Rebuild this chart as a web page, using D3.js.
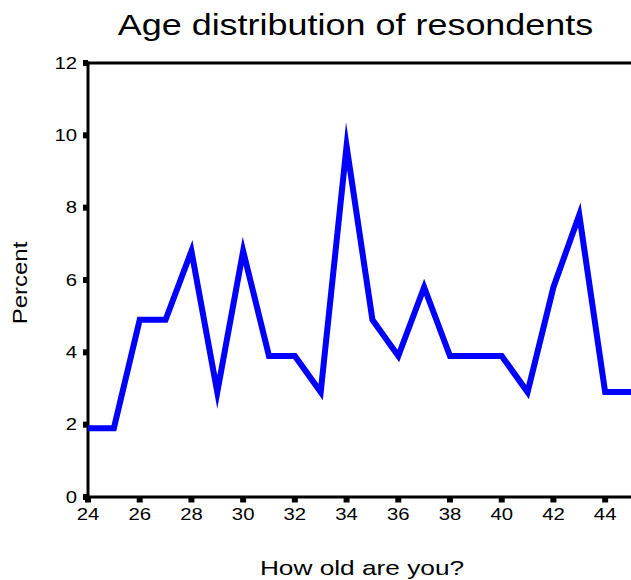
<!DOCTYPE html>
<html>
<head>
<meta charset="utf-8">
<script src="https://cdn.jsdelivr.net/npm/d3@7"></script>
<style>
  html, body { margin: 0; padding: 0; background: #fff; }
  svg { display: block; font-family: "Liberation Sans", Arial, sans-serif; }
</style>
</head>
<body>
<svg id="chart" width="631" height="580"></svg>
<script>
const ages = [24,25,26,27,28,29,30,31,32,33,34,35,36,37,38,39,40,41,42,43,44,45];
const percents = [1.9,1.9,4.9,4.9,6.8,2.9,6.8,3.9,3.9,2.9,9.7,4.9,3.9,5.8,3.9,3.9,3.9,2.9,5.8,7.8,2.9,2.9];
const xTicks = [24,26,28,30,32,34,36,38,40,42,44];
const yTicks = [0,2,4,6,8,10,12];
const titleText = "Age distribution of resondents";
const xLabel = "How old are you?";
const yLabel = "Percent";

(function () {
const svg = d3.select("#chart");
const mLeft = 88, mRight = 631, mTop = 63, mBottom = 497;
const sx = 1.27;

const x = d3.scaleLinear().domain([24,45]).range([mLeft, mRight]);
const y = d3.scaleLinear().domain([0,12]).range([mBottom, mTop]);

svg.append("line").attr("x1", mLeft).attr("x2", mLeft).attr("y1", mTop - 1.5).attr("y2", mBottom + 1.5)
  .attr("stroke", "#000").attr("stroke-width", 3);
svg.append("line").attr("x1", mLeft).attr("x2", mRight).attr("y1", mBottom).attr("y2", mBottom)
  .attr("stroke", "#000").attr("stroke-width", 3);
svg.append("line").attr("x1", mLeft).attr("x2", mRight).attr("y1", mTop).attr("y2", mTop)
  .attr("stroke", "#000").attr("stroke-width", 3);

const yAxis = svg.append("g");
yAxis.selectAll("rect").data(yTicks).join("rect")
  .attr("x", mLeft - 5).attr("y", d => y(d) - 3).attr("width", 5).attr("height", 6).attr("fill", "#000");
yAxis.selectAll("text").data(yTicks).join("text")
  .attr("transform", d => `translate(77,${y(d) + 5.7}) scale(${sx},1)`)
  .attr("text-anchor", "end").attr("font-size", 16).attr("fill", "#000")
  .text(d => d);

const xAxis = svg.append("g");
xAxis.selectAll("rect").data(xTicks).join("rect")
  .attr("x", d => x(d) - 3).attr("y", mBottom).attr("width", 6).attr("height", 5.5).attr("fill", "#000");
xAxis.selectAll("text").data(xTicks).join("text")
  .attr("transform", d => `translate(${x(d)},519.5) scale(${sx},1)`)
  .attr("text-anchor", "middle").attr("font-size", 16).attr("fill", "#000")
  .text(d => d);

const line = d3.line().x((d, i) => x(ages[i])).y(d => y(d));
svg.append("path").datum(percents)
  .attr("d", line).attr("fill", "none")
  .attr("stroke", "#0000ff").attr("stroke-width", 6)
  .attr("stroke-linejoin", "miter").attr("stroke-miterlimit", 10);

svg.append("text").attr("transform", "translate(355.5,34.5) scale(1.24,1)").attr("text-anchor", "middle")
  .attr("font-size", 29).attr("fill", "#000").text(titleText);

svg.append("text").attr("transform", "translate(362,575) scale(1.25,1)").attr("text-anchor", "middle")
  .attr("font-size", 21).attr("fill", "#000").text(xLabel);
svg.append("text").attr("transform", "translate(26.7,283) rotate(-90) scale(1.2,1)")
  .attr("text-anchor", "middle").attr("font-size", 20).attr("fill", "#000").text(yLabel);
})();
</script>
</body>
</html>
